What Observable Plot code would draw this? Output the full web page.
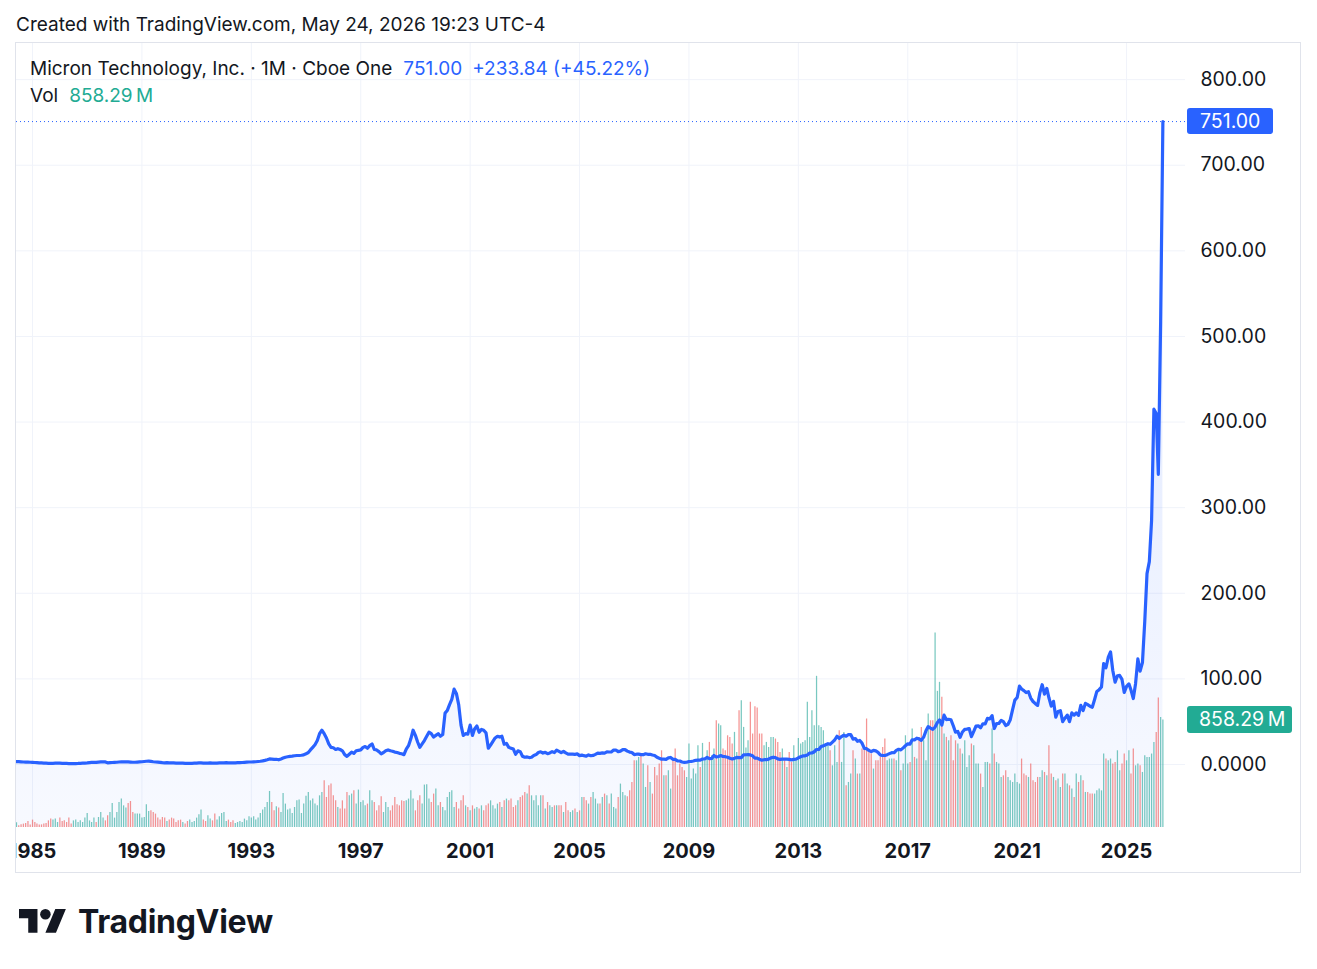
<!DOCTYPE html>
<html><head><meta charset="utf-8">
<script src="https://cdn.jsdelivr.net/npm/d3@7"></script>
<script src="https://cdn.jsdelivr.net/npm/@observablehq/plot@0.6"></script>
<style>
body{margin:0;background:#fff;font-family:Inter,"Noto Sans",sans-serif;color:#131722;}
#page{position:relative;width:1317px;height:969px;overflow:hidden;background:#fff}
#frame{position:absolute;left:16px;top:43px;width:1284px;height:829px;}
#frame svg{position:absolute;left:0;top:0}
#border{position:absolute;left:15px;top:42px;width:1284px;height:829px;border:1px solid #e0e3eb;pointer-events:none}
#overlay{position:absolute;left:0;top:0;pointer-events:none}
</style></head><body>
<div id="page">
<div id="frame"></div>
<div id="border"></div>
<svg id="overlay" width="1317" height="969"></svg>
</div>
<script>
(function(){
// ---- data (monthly closes, USD, from Jun 1984 to May 2026) ----
const symbolName = "Micron Technology, Inc.";
const interval = "1M";
const exchange = "Cboe One";
const firstMonth = [1984, 6];
const closes = [
  3.4,3.3,3.1,2.9,2.8,2.7,2.6,
  2.5,2.3,2.2,2.0,1.8,1.6,1.5,1.4,1.3,1.4,1.5,1.6,
  1.5,1.4,1.3,1.2,1.1,1.0,1.0,1.1,1.2,1.4,1.5,1.6,
  1.8,2.1,2.4,2.6,2.5,2.8,3.0,3.2,3.0,2.0,2.2,2.3,
  2.5,2.6,2.9,3.0,3.1,3.2,3.0,2.8,2.6,2.6,2.8,3.0,
  3.2,3.5,3.8,3.9,3.6,3.2,2.9,2.8,2.5,2.2,2.0,2.2,
  2.0,1.9,1.8,1.7,1.6,1.5,1.5,1.3,1.2,1.2,1.4,1.5,
  1.6,1.8,1.9,1.7,1.5,1.6,1.8,1.7,1.6,1.6,1.8,1.9,
  2.0,2.1,2.0,1.9,1.8,2.0,2.1,2.2,2.3,2.5,2.7,2.9,
  2.9,3.1,3.2,3.5,3.8,4.2,4.8,5.6,6.5,6.3,6.0,6.1,
  5.5,6.5,7.5,8.5,9.0,9.5,9.8,10.2,10.5,10.5,10.8,11.2,
  12.5,14,17,20,23,28,36,40,36,31,24,20,
  19.5,17.5,18.5,17.5,16,11.5,9.5,12,14.5,13,16,16.5,
  17,20,21,19,22,24,17.5,17,15,12.5,14,16,
  17,16,15.5,14.5,14,13,12.5,11.5,18,22,30,40,
  34,26,20,24,28,33,37.7,36,32,34,36,33,
  35,60,63,70,76,88,83,70,46,34,36,35.5,
  46,34,41.5,45,37.6,41,40,37,19,22.6,27,31,
  33,32,33,23.7,24.6,20,19,18,12,16,15,9.7,
  8.5,8.8,8.1,8.5,10.6,11.6,14,14.8,13.4,14.2,12.6,13.5,
  15,14,16.7,15.3,13.8,15.3,13.5,12,12,12.2,11.9,12.35,
  10.4,11,10.3,9.7,11.2,10.2,10.6,11.8,13.3,13,13.5,13.3,
  14.7,14.6,14.7,16.9,16.9,15,15.6,17.3,17.4,15.6,14.5,13.96,
  11.6,12,12.1,11.5,11.5,12.5,11.9,11.9,11.1,10.5,8.4,7.25,
  6.2,6.2,5.9,7.7,8.2,6,5.9,4.2,4.05,2.9,2.5,2.64,
  3.5,3.5,4.06,4.9,5.1,5.06,6.4,6.6,8.2,6.8,7.1,10.56,
  8.7,9.4,10.4,9.35,9.1,8.5,7.3,6.5,7.2,8.3,8.0,8.02,
  11.3,11.4,11.5,11.2,10.2,7.5,7.4,6.1,5.04,5.6,5.6,6.29,
  7.7,8.5,8.1,6.6,5.9,6.3,6.2,6.2,6.0,5.4,5.9,6.35,
  7.8,9.1,10,10.1,11.2,13.3,13.4,14.9,17.5,17.6,21,21.7,
  23,24.3,23.6,26.2,28.6,33,30.5,32.6,34.2,33,35,35.01,
  29.7,30.3,27.1,28.1,25,18.8,18.5,16.4,15,16.5,15.9,14.16,
  11,10.6,10.5,11.5,12.7,13.8,13.7,16.5,17.8,17.1,19.4,21.9,
  24.1,23.9,28.9,28.8,30.7,29.9,28.1,31.9,39.3,44.3,42.6,41.12,
  43.7,49,52.1,46,57.6,52.4,52.8,52.3,45.2,37.7,38.6,31.7,
  38,41,41.3,42,32.5,38.6,44.9,45.2,42.85,47.5,47.5,53.8,
  53.2,57.1,42,47.9,47.9,51.5,50,45.5,47,52.3,64,75.2,
  78.3,91.6,88.2,86.3,84,85,77.6,73.6,71,69,84,93.15,
  82.2,88.8,77.9,68.2,73.8,55.3,61.9,62.9,50.1,54.1,57.7,49.98,
  60.3,57.7,60.3,57.5,69,63.1,71.4,69.9,68,66.9,76,85.34,
  87.4,90.5,117.9,113,125,131.5,109.8,96.1,103.7,104,99.4,84.16,
  91.3,94.2,86.9,77,94.4,123.3,109.1,119,167.3,223,237,285,
  415,410,339,517.16,751
];
// monthly volume, millions of shares
const volumes = [
  37,13,21,27,32,48,19,
  59,40,27,19,21,27,32,53,67,59,67,40,
  75,48,53,40,75,27,53,59,40,53,40,75,
  112,53,40,75,40,80,120,75,53,93,120,192,
  75,120,200,227,173,155,192,208,120,107,107,107,
  75,80,181,128,133,120,107,75,59,80,75,48,
  59,75,67,40,53,59,40,27,48,59,40,48,
  75,101,139,59,48,93,67,53,107,59,85,112,
  120,48,59,40,53,32,40,48,40,67,53,85,
  75,85,59,75,112,139,160,200,288,200,133,165,
  155,120,272,187,139,147,112,160,213,219,112,187,
  250,280,213,227,187,173,253,280,373,240,333,347,
  253,213,160,147,213,147,280,253,267,293,187,299,
  200,213,173,187,293,213,200,133,173,245,120,200,
  160,133,173,240,181,173,213,208,213,227,293,227,
  133,213,253,187,339,341,227,200,267,307,173,200,
  160,133,240,280,293,160,200,147,213,253,173,160,
  133,173,147,160,147,173,133,173,187,213,173,147,
  187,200,160,213,227,213,227,160,173,213,240,253,
  280,267,333,253,213,253,173,253,253,147,200,173,
  160,173,173,173,173,120,200,133,120,133,147,120,
  133,240,240,213,187,240,280,227,187,187,240,267,
  253,187,267,160,147,240,347,280,253,245,293,360,
  533,533,560,587,507,320,493,360,267,480,413,507,
  613,413,413,453,307,533,627,413,507,480,453,400,
  667,387,467,427,653,480,672,533,613,680,573,627,
  853,827,813,627,613,733,720,667,760,600,933,1013,
  800,635,693,1000,747,965,955,747,747,653,680,640,
  720,720,707,680,600,627,533,480,600,520,653,533,
  712,667,680,693,1000,720,933,813,1208,813,800,773,
  667,653,613,493,653,520,773,520,760,333,360,427,
  613,547,427,427,627,640,867,627,587,467,533,533,
  560,640,707,533,547,547,547,533,627,453,507,733,
  507,520,787,560,547,720,800,693,533,907,853,853,
  1555,1088,1160,1040,747,720,693,733,533,693,667,627,
  587,693,480,573,667,653,507,507,427,320,520,520,
  507,787,587,520,507,400,413,453,400,373,360,427,
  360,347,547,427,413,400,507,373,360,400,400,453,
  440,413,653,427,400,373,387,320,427,427,347,333,
  307,240,427,360,413,373,280,280,267,267,267,293,
  307,293,587,547,533,547,507,520,613,453,507,587,
  533,613,427,627,493,507,493,440,573,560,560,587,
  680,760,1035,880,858.29
];
const priceTicks = [0,100,200,300,400,500,600,700,800];
const priceTickLabels = ["0.0000","100.00","200.00","300.00","400.00","500.00","600.00","700.00","800.00"];
const yearTicks = [1985,1989,1993,1997,2001,2005,2009,2013,2017,2021,2025];
const createdText = "Created with TradingView.com, May 24, 2026 19:23 UTC-4";

// ---- layout ----
const W = 1284, H = 829, mR = 115, mB = 45;
const xDomain = [new Date(Date.UTC(1984,5,1)), new Date(Date.UTC(2027,1,27))];
const yDomain = [-73.6, 842.2];
const volDomain = [0, 6265];
const BLUE = "#2962FF", TEAL = "#22ab94", TXT = "#131722", GRID = "#f0f3fa";
const FONT = "Inter, 'Noto Sans', sans-serif";
const AXFS = 19.5;

const start = new Date(Date.UTC(firstMonth[0], firstMonth[1]-1, 1));
const rows = closes.map((c,i)=>({date: d3.utcMonth.offset(start, i), close: c, volume: volumes[i], up: i===0 || c >= closes[i-1]}));
const last = rows[rows.length-1], prev = rows[rows.length-2];
const change = last.close - prev.close, pct = change/prev.close*100;

const common = {width: W, height: H, marginLeft: 0, marginRight: mR, marginTop: 0, marginBottom: mB,
  style: {background: "transparent", overflow: "hidden", fontFamily: FONT}};

// layer 1: grid, area, axis labels, dotted last-price line
const basePlot = Plot.plot({...common,
  x: {type: "utc", domain: xDomain, axis: null},
  y: {domain: yDomain, axis: null},
  marks: [
    Plot.ruleY(priceTicks, {stroke: GRID, strokeWidth: 1}),
    Plot.ruleX(yearTicks, {x: d => new Date(Date.UTC(d,0,1)), stroke: GRID, strokeWidth: 1}),
    Plot.areaY(rows, {x: "date", y1: yDomain[0], y2: "close", fill: "url(#priceFill)"}),
    Plot.ruleY([last.close], {stroke: BLUE, strokeWidth: 1, strokeDasharray: "1,3"}),
    Plot.text(priceTicks, {y: d => d, text: (d,i) => priceTickLabels[i], frameAnchor: "right", dx: 15, textAnchor: "start", fontSize: AXFS, fill: TXT}),
    Plot.text(yearTicks, {x: d => new Date(Date.UTC(d,0,1)), text: d => String(d), frameAnchor: "bottom", dy: 30, fontSize: 20, fontWeight: 700, fill: TXT})
  ]
});
const defs = d3.select(basePlot).insert("defs", ":first-child");
const grad = defs.append("linearGradient").attr("id","priceFill").attr("x1",0).attr("y1",0).attr("x2",0).attr("y2",1);
grad.append("stop").attr("offset","0%").attr("stop-color",BLUE).attr("stop-opacity",0.17);
grad.append("stop").attr("offset","100%").attr("stop-color",BLUE).attr("stop-opacity",0.035);

// layer 2: volume
const volPlot = Plot.plot({...common,
  x: {type: "utc", domain: xDomain, axis: null},
  y: {domain: volDomain, axis: null},
  marks: [
    Plot.ruleX(rows.filter(d => d.up), {x: "date", y1: 0, y2: "volume", stroke: "rgba(38,166,154,0.62)", strokeWidth: 1.25}),
    Plot.ruleX(rows.filter(d => !d.up), {x: "date", y1: 0, y2: "volume", stroke: "rgba(239,83,80,0.62)", strokeWidth: 1.25})
  ]
});
{
  const xr = volPlot.scale("x").range[1], yv = volPlot.scale("y").apply(last.volume);
  const g = d3.select(volPlot).append("g");
  g.append("rect").attr("x", xr+2).attr("y", yv-13.5).attr("width",105).attr("height",27).attr("rx",3).attr("fill",TEAL);
  g.append("text").attr("x", xr+14).attr("y", yv).attr("dy","0.35em").attr("text-anchor","start").attr("fill","#fff").attr("font-size",AXFS).attr("font-family",FONT)
    .text(d3.format(".2f")(last.volume) + "\u2009M");
}

// layer 3: price line
const linePlot = Plot.plot({...common,
  x: {type: "utc", domain: xDomain, axis: null},
  y: {domain: yDomain, axis: null},
  marks: [
    Plot.lineY(rows, {x: "date", y: "close", stroke: BLUE, strokeWidth: 3.2, strokeLinejoin: "round", strokeLinecap: "round"})
  ]
});
{
  const xr = linePlot.scale("x").range[1], yv = linePlot.scale("y").apply(last.close);
  const g = d3.select(linePlot).append("g");
  g.append("rect").attr("x", xr+2).attr("y", yv-13).attr("width",86).attr("height",26).attr("rx",3).attr("fill",BLUE);
  g.append("text").attr("x", xr+15).attr("y", yv).attr("dy","0.35em").attr("text-anchor","start").attr("fill","#fff").attr("font-size",AXFS).attr("font-family",FONT)
    .text(d3.format(".2f")(last.close));
}
const frameEl = document.getElementById("frame");
frameEl.append(basePlot, volPlot, linePlot);

// header, legend, footer
const ov = d3.select("#overlay").attr("font-family", FONT);
ov.append("text").attr("x",16).attr("y",31).attr("font-size",19).attr("fill",TXT).text(createdText);
const l1 = ov.append("text").attr("x",30).attr("y",75).attr("font-size",19).attr("fill",TXT);
l1.append("tspan").text(`${symbolName} · ${interval} · ${exchange}`);
l1.append("tspan").attr("dx",11).attr("fill",BLUE).text(d3.format(".2f")(last.close));
l1.append("tspan").attr("dx",10).attr("fill",BLUE).text(`+${d3.format(".2f")(change)} (+${d3.format(".2f")(pct)}%)`);
const l2 = ov.append("text").attr("x",30).attr("y",102).attr("font-size",19).attr("fill",TXT);
l2.append("tspan").text("Vol");
l2.append("tspan").attr("dx",11).attr("fill",TEAL).text(d3.format(".2f")(last.volume) + "\u2009M");
const logo = ov.append("g").attr("transform","translate(19,903.7) scale(1.32)").attr("fill","#131722");
logo.append("path").attr("d","M14 22H7V11H0V4h14v18zM28 22h-8l7.5-18h8L28 22z");
logo.append("circle").attr("cx",20).attr("cy",8).attr("r",4);
ov.append("text").attr("x",78).attr("y",932.7).attr("font-size",32).attr("font-weight",700).attr("letter-spacing","-0.3px").attr("fill","#131722").text("TradingView");
})();
</script>
</body></html>
